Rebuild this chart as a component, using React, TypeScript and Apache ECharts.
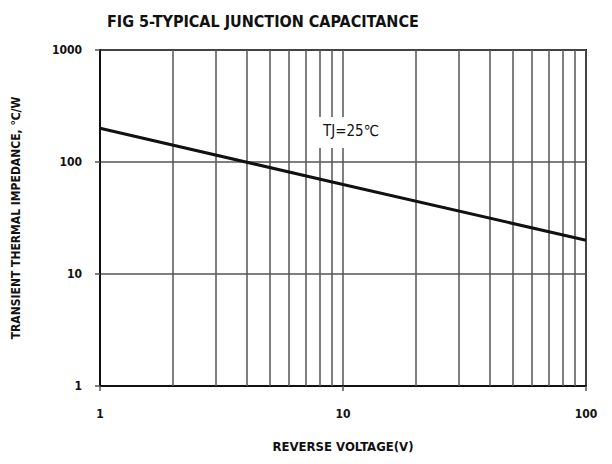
import React, { useEffect, useRef } from "react";
import * as echarts from "echarts";

const curveData: [number, number][] = [
  [1, 200],
  [10, 63],
  [100, 20],
];
const minorGridX: number[] = [2, 3, 4, 5, 6, 7, 8, 9, 20, 30, 40, 50, 60, 70, 80, 90];
const titleText = "FIG 5-TYPICAL JUNCTION CAPACITANCE";
const xName = "REVERSE VOLTAGE(V)";
const yName = "TRANSIENT THERMAL IMPEDANCE, \u2103/W";
const noteText = "TJ=25\u2103";

const FONT = "'Liberation Sans Narrow', 'DejaVu Sans Condensed', 'Liberation Sans', sans-serif";

export default function App() {
  const ref = useRef<HTMLDivElement>(null);
  useEffect(() => {
    if (!ref.current) return;
    const chart = echarts.init(ref.current, null, { renderer: "svg" });
    chart.setOption({
      animation: false,
      backgroundColor: "#fff",
      title: {
        text: titleText,
        left: 102,
        top: 8,
        textStyle: { fontFamily: FONT, fontWeight: "bold", fontSize: 16, color: "#111" },
      },
      grid: {
        left: 100,
        right: 26,
        top: 50,
        bottom: 78,
        show: true,
        borderColor: "#111",
        borderWidth: 2,
        backgroundColor: "transparent",
      },
      xAxis: {
        type: "log",
        logBase: 10,
        min: 1,
        max: 100,
        name: xName,
        nameLocation: "middle",
        nameGap: 54,
        nameTextStyle: { fontFamily: FONT, fontWeight: "bold", fontSize: 13, color: "#111" },
        axisLine: { show: true, lineStyle: { color: "#111", width: 2 } },
        axisTick: { show: true, length: 5, lineStyle: { color: "#555", width: 1.5 } },
        axisLabel: {
          margin: 22,
          fontFamily: FONT,
          fontWeight: "bold",
          fontSize: 12,
          color: "#111",
          formatter: (v: number) => String(Math.round(v)),
        },
        splitLine: { show: true, lineStyle: { color: "#555", width: 1.5 } },
        minorTick: { show: false },
        minorSplitLine: { show: false },
      },
      yAxis: {
        type: "log",
        logBase: 10,
        min: 1,
        max: 1000,
        name: yName,
        nameLocation: "middle",
        nameGap: 78,
        nameTextStyle: { fontFamily: FONT, fontWeight: "bold", fontSize: 12, color: "#111" },
        axisLine: { show: true, lineStyle: { color: "#111", width: 2 } },
        axisTick: { show: true, length: 5, lineStyle: { color: "#555", width: 1.5 } },
        axisLabel: {
          margin: 18,
          fontFamily: FONT,
          fontWeight: "bold",
          fontSize: 12,
          color: "#111",
          formatter: (v: number) => String(Math.round(v)),
        },
        splitLine: { show: true, lineStyle: { color: "#555", width: 1.5 } },
      },
      series: [
        {
          type: "line",
          data: curveData,
          symbol: "none",
          lineStyle: { color: "#111", width: 3 },
          z: 5,
          markLine: {
            silent: true,
            symbol: "none",
            label: { show: false },
            lineStyle: { color: "#555", width: 1.5, type: "solid" },
            data: minorGridX.map((v) => ({ xAxis: v })),
            z: 1,
          },
        },
      ],
      graphic: [
        {
          type: "group",
          z: 100,
          children: [
            {
              type: "rect",
              shape: { x: 310, y: 117, width: 100, height: 31 },
              style: { fill: "#fff" },
              z: 100,
            },
            {
              type: "text",
              x: 323,
              y: 131,
              style: {
                text: noteText,
                fontFamily: FONT,
                fontSize: 15,
                fill: "#111",
                verticalAlign: "middle",
              },
              z: 101,
            },
          ],
        },
      ],
    });
    return () => chart.dispose();
  }, []);
  return (
    <div
      ref={ref}
      style={{ position: "fixed", left: 0, top: 0, width: 612, height: 464 }}
    />
  );
}
